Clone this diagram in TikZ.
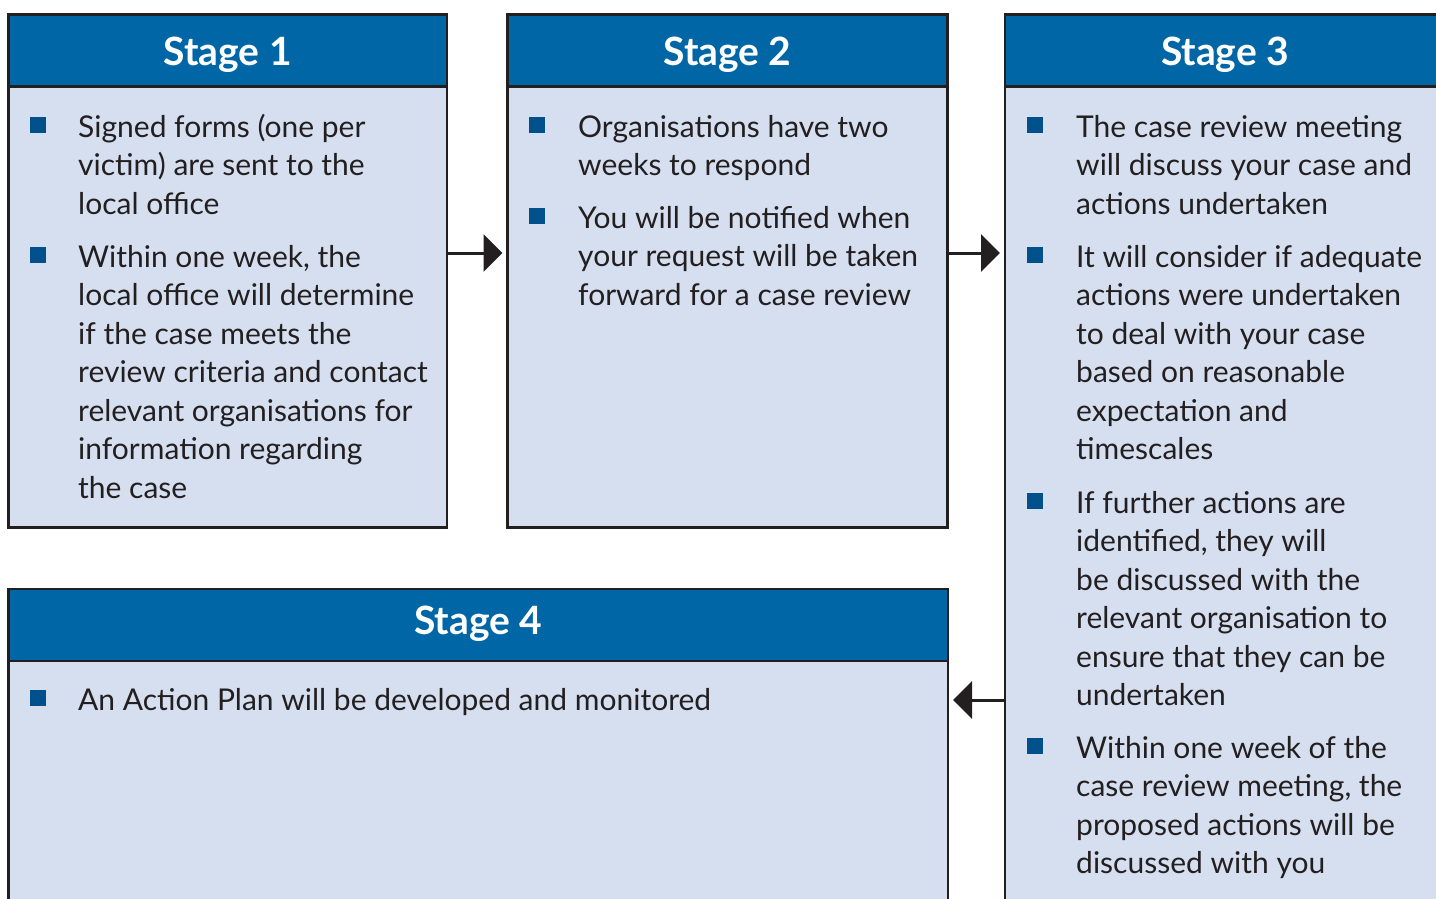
\documentclass[tikz,border=0pt]{standalone}
\usepackage{fontspec}
\setmainfont{Lato}
\usetikzlibrary{arrows.meta}
\definecolor{hblue}{RGB}{0,102,166}
\definecolor{bodyc}{RGB}{213,223,239}
\definecolor{edgec}{RGB}{35,31,32}
\definecolor{bulc}{RGB}{0,80,140}
\definecolor{textc}{RGB}{35,31,32}
\begin{document}
\begin{tikzpicture}[x=1pt,y=-1pt,
 box/.style={draw=edgec,line width=2.5pt,anchor=north west,inner sep=0pt,outer sep=0pt},
 head/.style={box,fill=hblue,minimum height=72pt,text=white,text height=30pt,text depth=0pt,font=\fontsize{39}{42}\selectfont\bfseries},
 body/.style={box,fill=bodyc},
 bul/.style={fill=bulc,minimum size=16pt,inner sep=0pt,outer sep=0pt},
 txt/.style={anchor=base west,align=left,inner sep=0pt,text=textc,font=\fontsize{30}{38.5}\selectfont},
 arr/.style={draw=edgec,line width=3pt,-{Triangle[length=19pt,width=37pt]},shorten >=5pt}]
\useasboundingbox (0,0) rectangle (1436,899);
\clip (0,0) rectangle (1436,899);
% Stage 1
\node[body,minimum width=438.5pt,minimum height=441pt] (s1b) at (8.5,86.5) {};
\node[head,minimum width=438.5pt] (s1h) at (8.5,14.5) {Stage 1};
% Stage 2
\node[body,minimum width=440pt,minimum height=441pt] (s2b) at (507.5,86.5) {};
\node[head,minimum width=440pt] (s2h) at (507.5,14.5) {Stage 2};
% Stage 3
\node[body,minimum width=440pt,minimum height=833pt] (s3b) at (1005,86.5) {};
\node[head,minimum width=440pt] (s3h) at (1005,14.5) {Stage 3};
% Stage 4
\node[body,minimum width=939.5pt,minimum height=250pt] (s4b) at (8.5,661) {};
\node[head,minimum width=939.5pt,text height=28pt,text depth=9pt] (s4h) at (8.5,589) {Stage 4};
% bullets
\node[bul] (b11) at (38,125) {};
\node[bul] (b12) at (38,255) {};
\node[bul] (b21) at (537,125) {};
\node[bul] (b22) at (537,216) {};
\node[bul] (b31) at (1035,125) {};
\node[bul] (b32) at (1035,255) {};
\node[bul] (b33) at (1035,501) {};
\node[bul] (b34) at (1035,746) {};
\node[bul] (b41) at (38,698) {};
% texts (anchored at the baseline of their last line)
\node[txt] (t11) at (78,214) {Signed forms (one per\\victim) are sent to the\\local office};
\node[txt] (t12) at (78,498) {Within one week, the\\local office will determine\\if the case meets the\\review criteria and contact\\relevant organisations for\\information regarding\\the case};
\node[txt] (t21) at (578,175.5) {Organisations have two\\weeks to respond};
\node[txt] (t22) at (578,305) {You will be notified when\\your request will be taken\\forward for a case review};
\node[txt] (t31) at (1076,214) {The case review meeting\\will discuss your case and\\actions undertaken};
\node[txt] (t32) at (1076,459.5) {It will consider if adequate\\actions were undertaken\\to deal with your case\\based on reasonable\\expectation and\\timescales};
\node[txt] (t33) at (1076,705.5) {If further actions are\\identified, they will\\be discussed with the\\relevant organisation to\\ensure that they can be\\undertaken};
\node[txt] (t34) at (1076,873.5) {Within one week of the\\case review meeting, the\\proposed actions will be\\discussed with you};
\node[txt] (t41) at (78,710) {An Action Plan will be developed and monitored};
% arrows
\coordinate (r1) at (0,253);
\coordinate (r3) at (0,700);
\draw[arr] (s1b.east |- r1) -- (s2b.west |- r1);
\draw[arr] (s2b.east |- r1) -- (s3b.west |- r1);
\draw[arr] (s3b.west |- r3) -- (s4b.east |- r3);
\end{tikzpicture}
\end{document}
